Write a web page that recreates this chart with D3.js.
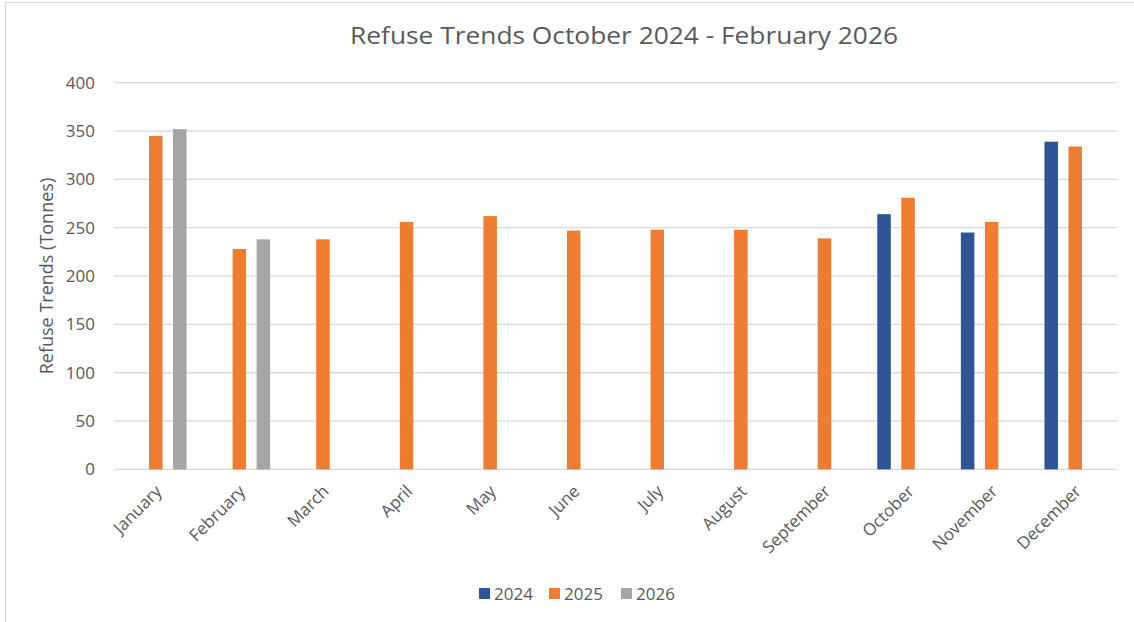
<!DOCTYPE html>
<html><head><meta charset="utf-8">
<script src="https://cdn.jsdelivr.net/npm/d3@7"></script>
<style>body{margin:0;background:#fff}svg{display:block;font-family:"Open Sans",sans-serif}</style>
</head><body><svg id="c" width="1134" height="622"></svg>
<script>
const months = ["January","February","March","April","May","June","July","August","September","October","November","December"];
const seriesNames = ["2024","2025","2026"];
const values2024 = [null,null,null,null,null,null,null,null,null,264,245,339];
const values2025 = [345,228,238,256,262,247,248,248,239,281,256,334];
const values2026 = [352,238,null,null,null,null,null,null,null,null,null,null];
const yTicks = [0,50,100,150,200,250,300,350,400];
const colors = ["#2F5597","#ED7D31","#A5A5A5"];
const title = "Refuse Trends October 2024 - February 2026";
const yTitle = "Refuse Trends (Tonnes)";

const svg = d3.select("#c");
const m = {l:114, r:1117, t:82.7, b:469.4};
// border
svg.append("line").attr("x1",5.5).attr("x2",5.5).attr("y1",2).attr("y2",622).attr("stroke","#D9D9D9");
svg.append("line").attr("x1",5.5).attr("x2",1134).attr("y1",2.5).attr("y2",2.5).attr("stroke","#D9D9D9");

const x0 = d3.scaleBand().domain(months).range([m.l,m.r]).paddingInner(0).paddingOuter(0);
const x1 = d3.scaleBand().domain(seriesNames).range([0,x0.bandwidth()]).paddingInner(0.4375).paddingOuter(0.46);
const y = d3.scaleLinear().domain([0,400]).range([m.b,m.t]);

const grid = svg.append("g");
yTicks.forEach(t=>{
  grid.append("line").attr("x1",m.l).attr("x2",m.r).attr("y1",y(t)).attr("y2",y(t))
    .attr("stroke","#D9D9D9").attr("stroke-width",1.3);
});
const yAxis = svg.append("g").attr("transform",`translate(${m.l},0)`)
  .call(d3.axisLeft(y).tickValues(yTicks).tickSize(0).tickPadding(19));
yAxis.select(".domain").remove();
yAxis.selectAll("text").attr("font-size",17).attr("fill","#595959").attr("font-family","Open Sans");

const series = [values2024, values2025, values2026];
series.forEach((vals,si)=>{
  svg.append("g").selectAll("rect").data(months.map((mo,i)=>({mo,v:vals[i]})).filter(d=>d.v!=null))
    .join("rect")
    .attr("x",d=>x0(d.mo)+x1(seriesNames[si]))
    .attr("width",x1.bandwidth())
    .attr("y",d=>y(d.v)).attr("height",d=>y(0)-y(d.v))
    .attr("fill",colors[si]);
});

const xAxis = svg.append("g").attr("transform",`translate(0,${m.b})`)
  .call(d3.axisBottom(x0).tickSize(0).tickPadding(0));
xAxis.select(".domain").remove();
xAxis.selectAll("text").attr("font-size",17).attr("fill","#595959").attr("font-family","Open Sans")
  .attr("text-anchor","end").attr("dy",0).attr("y",0)
  .attr("transform","translate(7,23) rotate(-45)");

svg.append("text").attr("x",624).attr("y",44).attr("text-anchor","middle")
  .attr("font-size",24.5).attr("fill","#595959").attr("textLength",548).attr("lengthAdjust","spacingAndGlyphs").text(title);

svg.append("text").attr("transform",`translate(53,${(m.t+m.b)/2}) rotate(-90)`).attr("text-anchor","middle")
  .attr("font-size",18).attr("fill","#595959").text(yTitle);

// legend
const leg = svg.append("g");
const legX = [479,549,621];
seriesNames.forEach((s,i)=>{
  const g = leg.append("g").attr("transform",`translate(${legX[i]},588)`);
  g.append("rect").attr("width",11).attr("height",11).attr("fill",colors[i]);
  g.append("text").attr("x",15).attr("y",11.5).attr("font-size",17).attr("fill","#595959").text(s);
});
</script></body></html>
